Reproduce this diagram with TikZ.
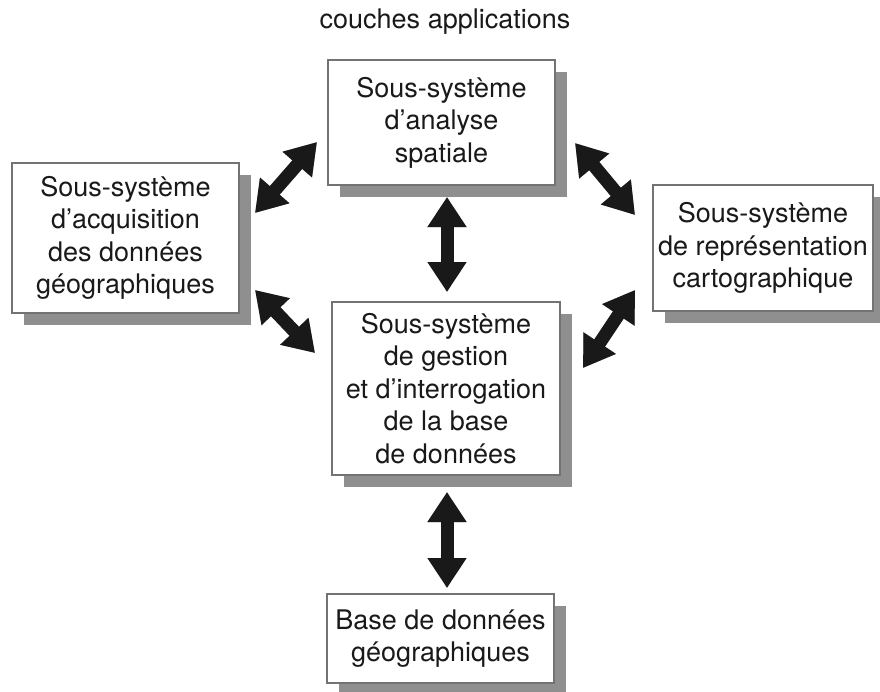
\documentclass[tikz,border=0pt]{standalone}
\usepackage{fontspec}
\setmainfont{TeX Gyre Heros}
\usetikzlibrary{arrows.meta,shadows}
\definecolor{boxline}{gray}{0.45}
\definecolor{boxshadow}{gray}{0.56}
\definecolor{arrowshadow}{gray}{0.62}
\definecolor{arrowink}{gray}{0.1}
\definecolor{ink}{gray}{0.1}
\begin{document}
\begin{tikzpicture}[x=1pt,y=-1pt,
  sbox/.style={draw=boxline, line width=1.2pt, fill=white, inner sep=0pt, align=center,
    font=\fontsize{27}{32.5}\selectfont, text=ink,
    drop shadow={shadow xshift=12pt, shadow yshift=-12pt, fill=boxshadow, opacity=1}},
  dbl/.style={line width=13pt, draw=arrowink,
    {Triangle[width=37pt,length=30pt]}-{Triangle[width=37pt,length=30pt]}},
  dblshadow/.style={dbl, draw=arrowshadow, shift={(7,7)}}
]
\useasboundingbox (0,0) rectangle (880,691);

\node[font=\fontsize{27}{32.5}\selectfont, text=ink] (title) at (445,22) {couches applications};

\node[sbox, minimum width=227pt, minimum height=125pt] (ana) at (441.5,122.5)
  {Sous-système\\d’analyse\\spatiale};
\node[sbox, minimum width=227pt, minimum height=150pt] (acq) at (125.5,238)
  {Sous-système\\d’acquisition\\des données\\géographiques};
\node[sbox, minimum width=220pt, minimum height=126pt] (rep) at (763,248)
  {Sous-système\\de représentation\\cartographique};
\node[sbox, minimum width=228pt, minimum height=173pt] (ges) at (446,388.5)
  {Sous-système\\de gestion\\et d’interrogation\\de la base\\de données};
\node[sbox, minimum width=227pt, minimum height=89pt] (bdd) at (440.5,638.5)
  {Base de données\\géographiques};

\coordinate (a1s) at (255,213); \coordinate (a1e) at (317,142);
\coordinate (a2s) at (255,290); \coordinate (a2e) at (315,353);
\coordinate (a3s) at (575,143); \coordinate (a3e) at (635,215);
\coordinate (a4s) at (583,368); \coordinate (a4e) at (635,290);
\coordinate (a5s) at (447,197); \coordinate (a5e) at (447,292);
\coordinate (a6s) at (447,492); \coordinate (a6e) at (447,588);

\foreach \n in {1,...,6}{
  \draw[dblshadow] (a\n s) -- (a\n e);
}
\foreach \n in {1,...,6}{
  \draw[dbl] (a\n s) -- (a\n e);
}
\end{tikzpicture}
\end{document}
